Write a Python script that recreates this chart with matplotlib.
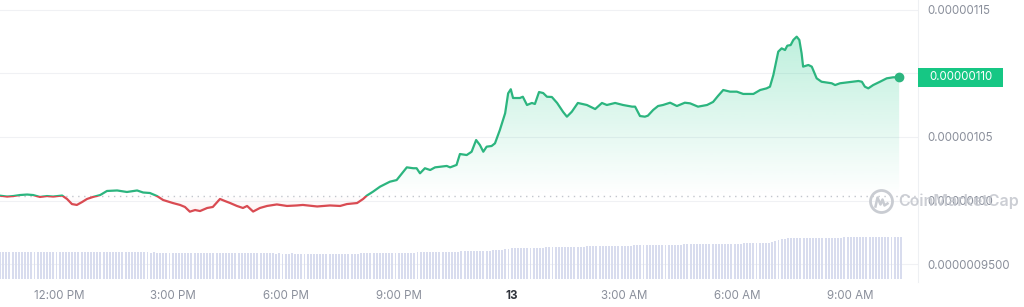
import numpy as np
import matplotlib
matplotlib.use('Agg')
import matplotlib.pyplot as plt
from matplotlib.patches import Polygon, Rectangle, Circle
from matplotlib.lines import Line2D
from matplotlib.transforms import IdentityTransform
from matplotlib.colors import to_rgb

plt.rcParams['font.family'] = ['Inter', 'DejaVu Sans']

# ---------------- data ----------------
# time in hours since 00:00 on the 12th (24 = midnight, "13")
time_h = [
    10.42, 10.61, 10.77, 10.95, 11.14, 11.30, 11.48, 11.67, 11.83, 12.07, 12.20, 12.33, 12.46, 12.60,
    12.73, 12.89, 13.08, 13.26, 13.53, 13.79, 14.06, 14.22, 14.40, 14.59, 14.75, 15.01, 15.20,
    15.33, 15.46, 15.60, 15.73, 15.92, 16.07, 16.26, 16.39, 16.53, 16.71, 16.87, 16.98, 17.14, 17.32,
    17.51, 17.77, 18.04, 18.30, 18.46, 18.84, 19.18, 19.45, 19.63, 19.90, 20.06, 20.16, 20.32, 20.51,
    20.77, 20.95, 21.22, 21.39, 21.48, 21.57, 21.70, 21.84, 21.97, 22.28, 22.37, 22.54, 22.63, 22.81,
    22.94, 23.06, 23.16, 23.25, 23.34, 23.47, 23.56, 23.69, 23.83, 23.91, 23.98,
    24.04, 24.22, 24.30, 24.41, 24.54, 24.62, 24.73, 24.84, 24.94, 25.07, 25.21, 25.37, 25.47, 25.60,
    25.76, 26.00, 26.22, 26.40, 26.53, 26.75, 26.96, 27.20, 27.28, 27.41, 27.54, 27.62, 27.76, 27.89,
    28.02, 28.21, 28.39, 28.60, 28.74, 28.95, 29.19, 29.35, 29.48,
    29.62, 29.80, 29.98, 30.15, 30.42, 30.60, 30.77, 30.86, 30.95, 31.08, 31.17, 31.26, 31.32, 31.41,
    31.48, 31.57, 31.64, 31.70, 31.74, 31.88, 31.97, 32.10, 32.23, 32.50, 32.59, 32.72, 32.94, 33.07,
    33.21, 33.30, 33.38, 33.47, 33.60, 33.78, 33.96, 34.13, 34.29,
]
# price in units of 1e-8 USD
price_x1e8 = [
    100.38, 100.31, 100.35, 100.43, 100.47, 100.43, 100.28, 100.35, 100.31, 100.39, 100.12, 99.72, 99.65, 99.88,
    100.12, 100.28, 100.43, 100.75, 100.79, 100.67, 100.79, 100.63, 100.59, 100.35, 100.04, 99.80, 99.65,
    99.49, 99.12, 99.25, 99.17, 99.41, 99.49, 100.12, 99.96, 99.80, 99.57, 99.41, 99.57, 99.13, 99.41,
    99.57, 99.69, 99.57, 99.61, 99.65, 99.53, 99.61, 99.57, 99.72, 99.80, 100.12, 100.39, 100.69, 101.09,
    101.48, 101.61, 102.61, 102.54, 102.54, 102.14, 102.54, 102.40, 102.61, 102.72, 102.61, 102.80, 103.66, 103.58,
    103.84, 104.76, 104.37, 103.84, 104.24, 104.29, 104.50, 105.55, 106.87, 108.44, 108.76,
    108.07, 108.07, 108.17, 107.52, 107.68, 107.60, 108.54, 108.46, 108.17, 108.15, 107.68, 106.97, 106.60, 106.99,
    107.68, 107.52, 107.20, 107.68, 107.52, 107.68, 107.52, 107.39, 107.39, 106.65, 106.60, 106.68, 107.13, 107.44,
    107.52, 107.70, 107.44, 107.70, 107.65, 107.39, 107.52, 107.76, 108.23,
    108.70, 108.57, 108.57, 108.39, 108.39, 108.70, 108.83, 108.96, 109.88, 111.72, 111.98, 111.85, 112.19, 112.24,
    112.64, 112.90, 112.64, 111.59, 110.54, 110.67, 110.54, 109.62, 109.35, 109.23, 109.09, 109.23, 109.31, 109.35,
    109.41, 109.35, 108.96, 108.83, 109.09, 109.35, 109.62, 109.70, 109.70,
]
# 5-minute volume bars (relative units)
volume_rel = [
    27.0, 27.1, 27.0, 26.9, 27.0, 27.1, 27.0, 27.0, 26.9, 27.0, 27.1, 27.0, 26.9, 27.0, 27.0, 26.9, 27.0, 27.1, 27.0, 26.9, 27.0, 26.9, 27.0, 26.9,
    26.9, 27.0, 26.9, 26.8, 26.9, 26.9, 26.8, 26.9, 26.8, 26.8, 26.9, 26.8, 26.7, 26.8, 26.8, 26.7, 26.8, 26.7, 26.6, 26.7, 26.6, 26.6, 26.7, 26.6,
    26.5, 26.6, 26.5, 26.5, 26.4, 26.5, 26.4, 26.4, 26.3, 26.4, 26.3, 26.3, 26.2, 26.3, 26.2, 26.2, 26.1, 26.2, 26.1, 26.1, 26.0, 26.1, 26.0, 26.0,
    25.9, 26.0, 25.9, 25.9, 25.8, 25.9, 25.8, 25.8, 25.7, 25.8, 25.7, 25.7, 25.6, 25.7, 25.6, 25.6, 25.5, 25.6, 25.5, 25.5, 25.5, 25.6, 25.5, 25.5,
    25.4, 25.5, 25.4, 25.4, 25.4, 25.5, 25.4, 25.4, 25.3, 25.4, 25.4, 25.3, 25.4, 25.4, 25.3, 25.4, 25.4, 25.5, 25.5, 25.6, 25.6, 25.7, 25.7, 25.8,
    25.8, 25.9, 25.9, 26.0, 26.0, 26.1, 26.1, 26.2, 26.3, 26.3, 26.4, 26.5, 26.5, 26.6, 26.7, 26.7, 26.8, 26.9, 26.9, 27.0, 27.1, 27.1, 27.2, 27.3,
    27.3, 27.4, 27.5, 27.6, 27.7, 27.8, 27.9, 28.0, 28.1, 28.2, 28.3, 28.4, 28.5, 28.6, 28.8, 29.0, 29.5, 30.0, 30.5, 30.8, 31.0, 31.1, 31.1, 31.2,
    31.2, 31.3, 31.3, 31.4, 31.5, 31.5, 31.6, 31.7, 31.7, 31.8, 31.9, 32.0, 32.0, 32.1, 32.2, 32.3, 32.3, 32.4, 32.5, 32.6, 32.6, 32.7, 32.8, 32.9,
    32.9, 33.0, 33.1, 33.1, 33.2, 33.3, 33.3, 33.4, 33.5, 33.5, 33.6, 33.6, 33.7, 33.8, 33.8, 33.9, 34.0, 34.0, 34.1, 34.1, 34.2, 34.3, 34.3, 34.4,
    34.4, 34.5, 34.6, 34.6, 34.7, 34.7, 34.8, 34.9, 34.9, 35.0, 35.0, 35.1, 35.1, 35.2, 35.2, 35.3, 35.3, 35.4, 35.4, 35.5, 35.5, 35.6, 35.6, 35.7,
    35.7, 35.8, 35.8, 35.9, 36.0, 36.5, 37.5, 38.5, 39.5, 40.2, 40.5, 40.6, 40.7, 40.7, 40.8, 40.9, 40.9, 41.0, 41.0, 41.1, 41.1, 41.2, 41.2, 41.3,
    41.3, 41.4, 41.4, 41.5, 41.5, 41.6, 41.6, 41.7, 41.7, 41.8, 41.8, 41.9, 41.9, 42.0, 42.0, 42.1, 42.1, 42.2, 42.2, 42.3, 42.3, 42.4, 42.4, 42.5,
]
vol_start_h = 10.42
vol_step_h = 5 / 60

x_ticks_h = [12, 15, 18, 21, 24, 27, 30, 33]
x_tick_labels = ['12:00 PM', '3:00 PM', '6:00 PM', '9:00 PM', '13', '3:00 AM', '6:00 AM', '9:00 AM']
y_ticks = [0.95e-6, 1.00e-6, 1.05e-6, 1.10e-6, 1.15e-6]
y_tick_labels = ['0.0000009500', '0.00000100', '0.00000105', '0.00000110', '0.00000115']
current_label = '0.00000110'

# ---------------- styling ----------------
GREEN = '#16c784'
LINE_GREEN = '#2cb57f'
LINE_RED = '#d94b52'
RED = '#ea3943'
TICK_COLOR = '#8a8f9b'
FS = 8.3

W, H = 1024, 307
fig = plt.figure(figsize=(W / 100, H / 100), dpi=100)
ax = fig.add_axes([0, 25 / H, 918 / W, 282 / H])

t = np.array(time_h)
p = np.array(price_x1e8) * 1e-8
base = p[0]

xlo, xhi = 10.4205, 34.79
ylo, yhi = 93.583e-8, 115.787e-8

# volume bars on a twin axis (created first; then fix the tick sides)
ax2 = ax.twinx()
ax2.set_ylim(-3, 279)
tv = vol_start_h + np.arange(len(volume_rel)) * vol_step_h
ax2.bar(tv, volume_rel, width=vol_step_h * 0.62, color='#d8dcee', linewidth=0, align='center')
ax2.set_xlim(xlo, xhi)
ax2.set_axis_off()

ax.set_xlim(xlo, xhi)
ax.set_ylim(ylo, yhi)

# gradient fills
n = 256
g = np.zeros((n, 1, 4))
g[..., :3] = to_rgb(GREEN)
g[:, 0, 3] = np.linspace(0, 0.34, n)
im_g = ax.imshow(g, origin='lower', aspect='auto', extent=(t[0], t[-1], base, yhi),
                 interpolation='bilinear', zorder=1)
green_poly = Polygon(np.column_stack([np.r_[t[0], t, t[-1]],
                                      np.r_[base, np.maximum(p, base), base]]),
                     closed=True, transform=ax.transData)
im_g.set_clip_path(green_poly)

r = np.zeros((n, 1, 4))
r[..., :3] = to_rgb(RED)
r[:, 0, 3] = np.linspace(0.16, 0, n)
im_r = ax.imshow(r, origin='lower', aspect='auto', extent=(t[0], t[-1], 97.3e-8, base),
                 interpolation='bilinear', zorder=1)
red_poly = Polygon(np.column_stack([np.r_[t[0], t, t[-1]],
                                    np.r_[base, np.minimum(p, base), base]]),
                   closed=True, transform=ax.transData)
im_r.set_clip_path(red_poly)
ax.set_xlim(xlo, xhi)
ax.set_ylim(ylo, yhi)

# baseline dotted
ax.axhline(base, color='#c3c6cd', lw=1.0, linestyle=(0, (1, 3.3)), zorder=2)

# price line split into green/red
lg, = ax.plot(t, p, color=LINE_GREEN, lw=1.6, zorder=3, solid_joinstyle='round')
lg.set_clip_path(Rectangle((xlo - 1, base), xhi - xlo + 2, 1e-6, transform=ax.transData))
lr, = ax.plot(t, p, color=LINE_RED, lw=1.6, zorder=3, solid_joinstyle='round')
lr.set_clip_path(Rectangle((xlo - 1, base - 1e-6), xhi - xlo + 2, 1e-6, transform=ax.transData))
ax.plot([t[-1]], [p[-1]], 'o', color=LINE_GREEN, ms=6, zorder=4)

# axes styling
for s in ax.spines.values():
    s.set_visible(False)
ax.spines['right'].set_visible(True)
ax.spines['right'].set_color('#eef0f3')
ax.spines['right'].set_linewidth(0.8)
ax.set_yticks(y_ticks)
ax.set_yticklabels(y_tick_labels)
ax.set_xticks(x_ticks_h)
ax.set_xticklabels(x_tick_labels)
ax.yaxis.set_ticks_position('right')
ax.tick_params(axis='y', left=False, labelleft=False, right=False, labelright=True,
               length=0, pad=7, labelsize=FS, labelcolor=TICK_COLOR)
ax.tick_params(axis='x', length=0, pad=6, labelsize=FS, labelcolor=TICK_COLOR)
lab13 = ax.get_xticklabels()[4]
lab13.set_fontweight('bold')
lab13.set_color('#30343c')
ax.grid(axis='y', color='#f0f1f4', lw=0.8, zorder=0)
ax.set_axisbelow(True)

# current price tag
fig.canvas.draw()
yd = ax.transData.transform((t[-1], p[-1]))[1]
tag = Rectangle((918, yd - 9.5), 85, 19, transform=IdentityTransform(),
                facecolor=GREEN, edgecolor='none', zorder=5)
fig.add_artist(tag)
fig.text(960.5 / W, yd / H, current_label, color='white', fontsize=FS,
         ha='center', va='center', zorder=6)

# watermark
cx, cy = 881.5, H - 201.5
fig.add_artist(Circle((cx, cy), 11, transform=IdentityTransform(), fill=False,
                      edgecolor='#c9ccd2', lw=2.0, zorder=5))
fig.add_artist(Line2D([cx - 6, cx - 4, cx - 1, cx + 1, cx + 3, cx + 6],
                      [cy - 5, cy + 4, cy - 3, cy + 2, cy - 4, cy - 2],
                      transform=IdentityTransform(), color='#c9ccd2', lw=1.8, zorder=5))
fig.text(898 / W, cy / H, 'CoinMarketCap', color='#c3c6cd', alpha=0.85, fontsize=11.5,
         fontweight='semibold', ha='left', va='center', zorder=5)

fig.savefig('out.png', dpi=100)
